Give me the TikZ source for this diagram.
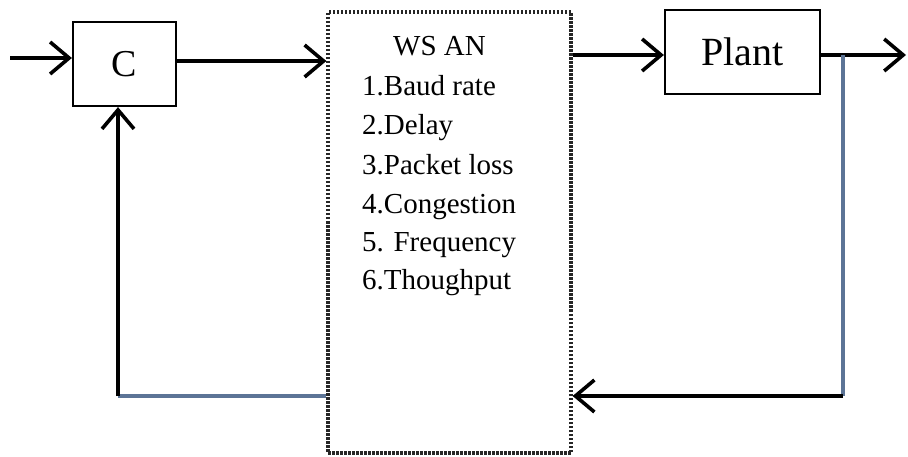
\documentclass[tikz,border=0pt]{standalone}
\usepackage{fontspec}
\setmainfont{Liberation Serif}
\usetikzlibrary{arrows.meta}
\definecolor{fbblue}{RGB}{92,116,150}
\tikzset{
  blockbox/.style={draw=black, line width=2.2pt, inner sep=0pt, fill=white},
  netbox/.style={draw=black!85, line width=3.2pt, dash pattern=on 2.5pt off 1.5pt, inner sep=0pt},
  sig/.style={line width=3.6pt, black, -{Straight Barb[length=19pt,width=32pt,line width=3.6pt]}},
  fb/.style={line width=3.2pt, fbblue},
  listtxt/.style={anchor=base west, inner sep=0pt, font=\fontsize{29}{30}\selectfont}
}
\begin{document}
\begin{tikzpicture}[x=1pt,y=-1pt]
\useasboundingbox (0,0) rectangle (908,457);
% blocks
\node[blockbox, minimum width=103pt, minimum height=84pt] (C) at (124.5,64) {\fontsize{38}{40}\selectfont C};
\node[netbox, minimum width=243pt, minimum height=441pt] (wsan) at (449.5,232.5) {};
\node[blockbox, minimum width=155pt, minimum height=84pt] (plant) at (742.5,52) {\fontsize{40}{42}\selectfont Plant};
% texts
\node[listtxt] (t0) at (393,56) {WS AN};
\node[listtxt] (t1) at (362,96) {1.Baud rate};
\node[listtxt] (t2) at (362,135) {2.Delay};
\node[listtxt] (t3) at (362,175) {3.Packet loss};
\node[listtxt] (t4) at (362,214) {4.Congestion};
\node[listtxt] (t5) at (362,252) {5. Frequency};
\node[listtxt] (t6) at (362,290) {6.Thoughput};
% coordinates
\coordinate (in) at (10,58);
\coordinate (out) at (906,55);
\coordinate (tap) at (843,55);
\coordinate (rc) at (843,396);
\coordinate (lc) at (118,396);
% connectors
\draw[sig] (in) -- (C.west |- in);
\draw[sig] (C.east |- 0,61) -- (wsan.west |- 0,61);
\draw[sig] (wsan.east |- 0,55) -- (plant.west |- 0,55);
\draw[sig] (plant.east |- out) -- (out);
\draw[fb] (tap) -- (rc);
\draw[sig] (rc) -- (wsan.east |- rc);
\draw[fb] (wsan.west |- lc) -- (lc);
\draw[sig] (lc) -- (lc |- C.south);
\end{tikzpicture}
\end{document}
